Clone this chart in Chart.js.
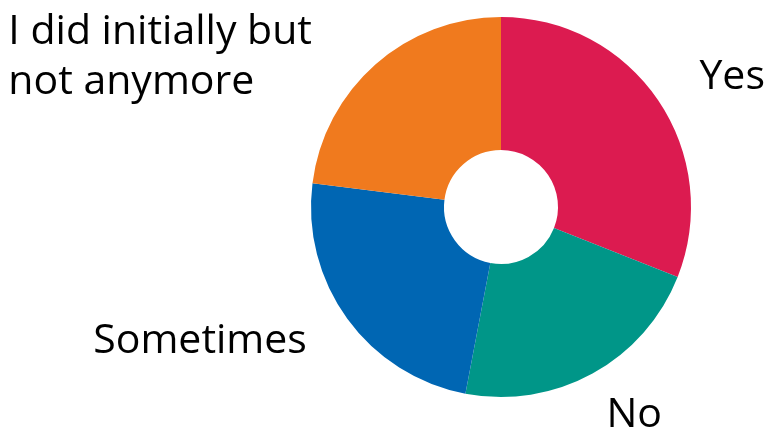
<!DOCTYPE html>
<html>
<head>
<meta charset="utf-8">
<script src="https://cdn.jsdelivr.net/npm/chart.js@4/dist/chart.umd.min.js"></script>
<style>
  html, body { margin: 0; padding: 0; background: #fff; }
  #wrap { width: 766px; height: 430px; }
</style>
</head>
<body>
<div id="wrap"><canvas id="pie"></canvas></div>
<script>
// ---------- data ----------
const categories = ['Yes', 'No', 'Sometimes', ['I did initially but', 'not anymore']];
const shares = [31, 22, 24, 23];
const sliceColors = ['#dc1b50', '#009688', '#0066b3', '#f07a1e'];

const FONT = '41px "Open Sans", "Noto Sans", sans-serif';
const LINE_H = 50;
// small hand nudges so the labels sit like in the original
const labelNudge = [[-2, 4], [-13, 10], [2, -5], [-28, 5]];

// draws the outside labels next to each slice
const outsideLabels = {
    id: 'outsideLabels',
    afterDatasetsDraw(chart) {
        const ctx = chart.ctx;
        const arcs = chart.getDatasetMeta(0).data;
        ctx.save();
        ctx.font = FONT;
        ctx.fillStyle = '#000';
        ctx.textBaseline = 'middle';
        ctx.textAlign = 'left';
        arcs.forEach((arc, i) => {
            const p = arc.getProps(['x', 'y', 'startAngle', 'endAngle', 'outerRadius']);
            const mid = (p.startAngle + p.endAngle) / 2;
            const r = p.outerRadius * 1.25;
            const ax = p.x + Math.cos(mid) * r;
            const ay = p.y + Math.sin(mid) * r;
            const lines = Array.isArray(categories[i]) ? categories[i] : [categories[i]];
            const blockW = Math.max(...lines.map(l => ctx.measureText(l).width));
            const blockH = lines.length * LINE_H;
            let left = ax >= p.x ? ax + 4 : ax - 4 - blockW;
            let top = ay - blockH / 2;
            if (top < 2) top = 2;
            if (top + blockH > chart.height) top = chart.height - blockH;
            left += labelNudge[i][0];
            top += labelNudge[i][1];
            lines.forEach((l, k) => ctx.fillText(l, left, top + LINE_H * k + LINE_H / 2));
        });
        ctx.restore();
    }
};

new Chart(document.getElementById('pie'), {
    type: 'doughnut',
    data: {
        labels: categories,
        datasets: [{
            data: shares,
            backgroundColor: sliceColors,
            borderWidth: 0
        }]
    },
    options: {
        responsive: true,
        maintainAspectRatio: false,
        animation: false,
        cutout: '30%',
        layout: { padding: { left: 236, right: 0, top: 17, bottom: 33 } },
        plugins: { legend: { display: false }, tooltip: { enabled: false } }
    },
    plugins: [outsideLabels]
});
</script>
</body>
</html>
